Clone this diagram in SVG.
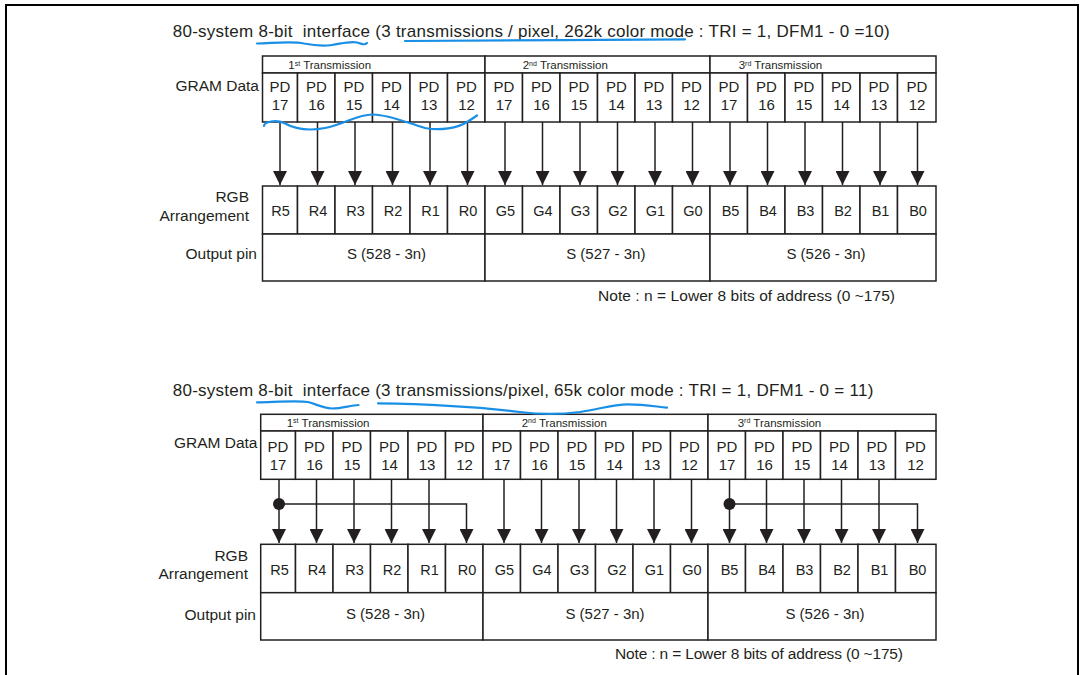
<svg xmlns="http://www.w3.org/2000/svg" width="1084" height="675" viewBox="0 0 1084 675">
<style>
text{font-family:"Liberation Sans",Arial,sans-serif;fill:#231f20}
.ttl{font-size:17px}
.lbl{font-size:15.5px;text-anchor:end}
.pd{font-size:15px;text-anchor:middle}
.rgb{font-size:14.5px;text-anchor:middle}
.hdr{font-size:11.5px}
.out{font-size:15px;text-anchor:middle}
.note{font-size:15.5px}
.c{fill:#fff;stroke:#231f20;stroke-width:1.5}
.w{fill:none;stroke:#1a8fe6;stroke-width:2.2;stroke-linecap:round;stroke-linejoin:round}
.ln{fill:none;stroke:#231f20;stroke-width:1.5}
</style>
<defs>
<marker id="ah" markerUnits="userSpaceOnUse" markerWidth="14" markerHeight="14" viewBox="0 0 14 14" refX="14" refY="7" orient="auto"><path d="M0,0 L14,7 L0,14 z" fill="#231f20"/></marker>
</defs>
<rect x="6" y="5" width="1072" height="700" fill="none" stroke="#000" stroke-width="2"/>

<!-- ================= TOP ================= -->
<g id="t1-title"><text class="ttl" x="172.7" y="37.4" textLength="717" xml:space="preserve">80-system 8-bit  interface (3 transmissions / pixel, 262k color mode : TRI = 1, DFM1 - 0 =10)</text></g>
<g id="t1-labels">
<text class="lbl" x="259" y="90.5">GRAM Data</text>
<text class="lbl" x="249" y="202.3">RGB</text>
<text class="lbl" x="249" y="220.6">Arrangement</text>
<text class="lbl" x="257" y="259">Output pin</text>
</g>
<g id="t1-h1"><rect class="c" x="262.5" y="56" width="222.5" height="17"/><text class="hdr" x="288.3" y="69">1<tspan font-size="7" dy="-3.5">st</tspan><tspan dy="3.5"> Transmission</tspan></text></g>
<g id="t1-h2"><rect class="c" x="485" y="56" width="225" height="17"/><text class="hdr" x="522.7" y="69">2<tspan font-size="7" dy="-3.5">nd</tspan><tspan dy="3.5"> Transmission</tspan></text></g>
<g id="t1-h3"><rect class="c" x="710" y="56" width="226" height="17"/><text class="hdr" x="738.7" y="69">3<tspan font-size="7" dy="-3.5">rd</tspan><tspan dy="3.5"> Transmission</tspan></text></g>

<g id="t1-pd0"><rect class="c" x="262.5" y="73" width="35" height="49"/><text class="pd" x="280" y="92">PD</text><text class="pd" x="280" y="110.3">17</text></g>
<g id="t1-pd1"><rect class="c" x="297.5" y="73" width="37.5" height="49"/><text class="pd" x="316.5" y="92">PD</text><text class="pd" x="316.5" y="110.3">16</text></g>
<g id="t1-pd2"><rect class="c" x="335" y="73" width="37.5" height="49"/><text class="pd" x="354" y="92">PD</text><text class="pd" x="354" y="110.3">15</text></g>
<g id="t1-pd3"><rect class="c" x="372.5" y="73" width="37.5" height="49"/><text class="pd" x="391.5" y="92">PD</text><text class="pd" x="391.5" y="110.3">14</text></g>
<g id="t1-pd4"><rect class="c" x="410" y="73" width="37.5" height="49"/><text class="pd" x="429" y="92">PD</text><text class="pd" x="429" y="110.3">13</text></g>
<g id="t1-pd5"><rect class="c" x="447.5" y="73" width="37.5" height="49"/><text class="pd" x="466.5" y="92">PD</text><text class="pd" x="466.5" y="110.3">12</text></g>
<g id="t1-pd6"><rect class="c" x="485" y="73" width="37.5" height="49"/><text class="pd" x="504" y="92">PD</text><text class="pd" x="504" y="110.3">17</text></g>
<g id="t1-pd7"><rect class="c" x="522.5" y="73" width="37.5" height="49"/><text class="pd" x="541.5" y="92">PD</text><text class="pd" x="541.5" y="110.3">16</text></g>
<g id="t1-pd8"><rect class="c" x="560" y="73" width="37.5" height="49"/><text class="pd" x="579" y="92">PD</text><text class="pd" x="579" y="110.3">15</text></g>
<g id="t1-pd9"><rect class="c" x="597.5" y="73" width="37.5" height="49"/><text class="pd" x="616.5" y="92">PD</text><text class="pd" x="616.5" y="110.3">14</text></g>
<g id="t1-pd10"><rect class="c" x="635" y="73" width="37.5" height="49"/><text class="pd" x="654" y="92">PD</text><text class="pd" x="654" y="110.3">13</text></g>
<g id="t1-pd11"><rect class="c" x="672.5" y="73" width="37.5" height="49"/><text class="pd" x="691.5" y="92">PD</text><text class="pd" x="691.5" y="110.3">12</text></g>
<g id="t1-pd12"><rect class="c" x="710" y="73" width="37.5" height="49"/><text class="pd" x="729" y="92">PD</text><text class="pd" x="729" y="110.3">17</text></g>
<g id="t1-pd13"><rect class="c" x="747.5" y="73" width="37.5" height="49"/><text class="pd" x="766.5" y="92">PD</text><text class="pd" x="766.5" y="110.3">16</text></g>
<g id="t1-pd14"><rect class="c" x="785" y="73" width="37.5" height="49"/><text class="pd" x="804" y="92">PD</text><text class="pd" x="804" y="110.3">15</text></g>
<g id="t1-pd15"><rect class="c" x="822.5" y="73" width="37.5" height="49"/><text class="pd" x="841.5" y="92">PD</text><text class="pd" x="841.5" y="110.3">14</text></g>
<g id="t1-pd16"><rect class="c" x="860" y="73" width="37.5" height="49"/><text class="pd" x="879" y="92">PD</text><text class="pd" x="879" y="110.3">13</text></g>
<g id="t1-pd17"><rect class="c" x="897.5" y="73" width="38.5" height="49"/><text class="pd" x="917" y="92">PD</text><text class="pd" x="917" y="110.3">12</text></g>

<g id="t1-rgb0"><rect class="c" x="262.5" y="186" width="35" height="48"/><text class="rgb" x="280.5" y="216.2">R5</text></g>
<g id="t1-rgb1"><rect class="c" x="297.5" y="186" width="37.5" height="48"/><text class="rgb" x="318" y="216.2">R4</text></g>
<g id="t1-rgb2"><rect class="c" x="335" y="186" width="37.5" height="48"/><text class="rgb" x="355.5" y="216.2">R3</text></g>
<g id="t1-rgb3"><rect class="c" x="372.5" y="186" width="37.5" height="48"/><text class="rgb" x="393" y="216.2">R2</text></g>
<g id="t1-rgb4"><rect class="c" x="410" y="186" width="37.5" height="48"/><text class="rgb" x="430.5" y="216.2">R1</text></g>
<g id="t1-rgb5"><rect class="c" x="447.5" y="186" width="37.5" height="48"/><text class="rgb" x="468" y="216.2">R0</text></g>
<g id="t1-rgb6"><rect class="c" x="485" y="186" width="37.5" height="48"/><text class="rgb" x="505.5" y="216.2">G5</text></g>
<g id="t1-rgb7"><rect class="c" x="522.5" y="186" width="37.5" height="48"/><text class="rgb" x="543" y="216.2">G4</text></g>
<g id="t1-rgb8"><rect class="c" x="560" y="186" width="37.5" height="48"/><text class="rgb" x="580.5" y="216.2">G3</text></g>
<g id="t1-rgb9"><rect class="c" x="597.5" y="186" width="37.5" height="48"/><text class="rgb" x="618" y="216.2">G2</text></g>
<g id="t1-rgb10"><rect class="c" x="635" y="186" width="37.5" height="48"/><text class="rgb" x="655.5" y="216.2">G1</text></g>
<g id="t1-rgb11"><rect class="c" x="672.5" y="186" width="37.5" height="48"/><text class="rgb" x="693" y="216.2">G0</text></g>
<g id="t1-rgb12"><rect class="c" x="710" y="186" width="37.5" height="48"/><text class="rgb" x="730.5" y="216.2">B5</text></g>
<g id="t1-rgb13"><rect class="c" x="747.5" y="186" width="37.5" height="48"/><text class="rgb" x="768" y="216.2">B4</text></g>
<g id="t1-rgb14"><rect class="c" x="785" y="186" width="37.5" height="48"/><text class="rgb" x="805.5" y="216.2">B3</text></g>
<g id="t1-rgb15"><rect class="c" x="822.5" y="186" width="37.5" height="48"/><text class="rgb" x="843" y="216.2">B2</text></g>
<g id="t1-rgb16"><rect class="c" x="860" y="186" width="37.5" height="48"/><text class="rgb" x="880.5" y="216.2">B1</text></g>
<g id="t1-rgb17"><rect class="c" x="897.5" y="186" width="38.5" height="48"/><text class="rgb" x="918" y="216.2">B0</text></g>

<g id="t1-out1"><rect class="c" x="262.5" y="234" width="222.5" height="47"/><text class="out" x="386.5" y="258.5">S (528 - 3n)</text></g>
<g id="t1-out2"><rect class="c" x="485" y="234" width="225" height="47"/><text class="out" x="605.8" y="258.5">S (527 - 3n)</text></g>
<g id="t1-out3"><rect class="c" x="710" y="234" width="226" height="47"/><text class="out" x="826" y="258.5">S (526 - 3n)</text></g>
<g id="t1-note"><text class="note" x="598" y="300.5" textLength="297">Note : n = Lower 8 bits of address (0 ~175)</text></g>

<g id="t1-connectors" class="ln" marker-end="url(#ah)">
<path d="M280,122V185"/><path d="M317.5,122V185"/><path d="M355,122V185"/><path d="M392.5,122V185"/><path d="M430,122V185"/><path d="M467.5,122V185"/>
<path d="M505,122V185"/><path d="M542.5,122V185"/><path d="M580,122V185"/><path d="M617.5,122V185"/><path d="M655,122V185"/><path d="M692.5,122V185"/>
<path d="M730,122V185"/><path d="M767.5,122V185"/><path d="M805,122V185"/><path d="M842.5,122V185"/><path d="M880,122V185"/><path d="M917.5,122V185"/>
</g>

<!-- ================= BOTTOM ================= -->
<g id="t2-title"><text class="ttl" x="172.7" y="396.4" textLength="700.6" xml:space="preserve">80-system 8-bit  interface (3 transmissions/pixel, 65k color mode : TRI = 1, DFM1 - 0 = 11)</text></g>
<g id="t2-labels">
<text class="lbl" x="257.5" y="448">GRAM Data</text>
<text class="lbl" x="248" y="560.6">RGB</text>
<text class="lbl" x="248" y="579">Arrangement</text>
<text class="lbl" x="256" y="619.6">Output pin</text>
</g>
<g id="t2-h1"><rect class="c" x="260.7" y="414.3" width="222.3" height="16.7"/><text class="hdr" x="286.7" y="426.7">1<tspan font-size="7" dy="-3.5">st</tspan><tspan dy="3.5"> Transmission</tspan></text></g>
<g id="t2-h2"><rect class="c" x="483" y="414.3" width="225" height="16.7"/><text class="hdr" x="521.7" y="426.7">2<tspan font-size="7" dy="-3.5">nd</tspan><tspan dy="3.5"> Transmission</tspan></text></g>
<g id="t2-h3"><rect class="c" x="708" y="414.3" width="228" height="16.7"/><text class="hdr" x="737.7" y="426.7">3<tspan font-size="7" dy="-3.5">rd</tspan><tspan dy="3.5"> Transmission</tspan></text></g>

<g id="t2-pd0"><rect class="c" x="260.7" y="431" width="34.8" height="48.3"/><text class="pd" x="278" y="452">PD</text><text class="pd" x="278" y="470.3">17</text></g>
<g id="t2-pd1"><rect class="c" x="295.5" y="431" width="37.5" height="48.3"/><text class="pd" x="314.5" y="452">PD</text><text class="pd" x="314.5" y="470.3">16</text></g>
<g id="t2-pd2"><rect class="c" x="333" y="431" width="37.5" height="48.3"/><text class="pd" x="352" y="452">PD</text><text class="pd" x="352" y="470.3">15</text></g>
<g id="t2-pd3"><rect class="c" x="370.5" y="431" width="37.5" height="48.3"/><text class="pd" x="389.5" y="452">PD</text><text class="pd" x="389.5" y="470.3">14</text></g>
<g id="t2-pd4"><rect class="c" x="408" y="431" width="37.5" height="48.3"/><text class="pd" x="427" y="452">PD</text><text class="pd" x="427" y="470.3">13</text></g>
<g id="t2-pd5"><rect class="c" x="445.5" y="431" width="37.5" height="48.3"/><text class="pd" x="464.5" y="452">PD</text><text class="pd" x="464.5" y="470.3">12</text></g>
<g id="t2-pd6"><rect class="c" x="483" y="431" width="37.5" height="48.3"/><text class="pd" x="502" y="452">PD</text><text class="pd" x="502" y="470.3">17</text></g>
<g id="t2-pd7"><rect class="c" x="520.5" y="431" width="37.5" height="48.3"/><text class="pd" x="539.5" y="452">PD</text><text class="pd" x="539.5" y="470.3">16</text></g>
<g id="t2-pd8"><rect class="c" x="558" y="431" width="37.5" height="48.3"/><text class="pd" x="577" y="452">PD</text><text class="pd" x="577" y="470.3">15</text></g>
<g id="t2-pd9"><rect class="c" x="595.5" y="431" width="37.5" height="48.3"/><text class="pd" x="614.5" y="452">PD</text><text class="pd" x="614.5" y="470.3">14</text></g>
<g id="t2-pd10"><rect class="c" x="633" y="431" width="37.5" height="48.3"/><text class="pd" x="652" y="452">PD</text><text class="pd" x="652" y="470.3">13</text></g>
<g id="t2-pd11"><rect class="c" x="670.5" y="431" width="37.5" height="48.3"/><text class="pd" x="689.5" y="452">PD</text><text class="pd" x="689.5" y="470.3">12</text></g>
<g id="t2-pd12"><rect class="c" x="708" y="431" width="37.5" height="48.3"/><text class="pd" x="727" y="452">PD</text><text class="pd" x="727" y="470.3">17</text></g>
<g id="t2-pd13"><rect class="c" x="745.5" y="431" width="37.5" height="48.3"/><text class="pd" x="764.5" y="452">PD</text><text class="pd" x="764.5" y="470.3">16</text></g>
<g id="t2-pd14"><rect class="c" x="783" y="431" width="37.5" height="48.3"/><text class="pd" x="802" y="452">PD</text><text class="pd" x="802" y="470.3">15</text></g>
<g id="t2-pd15"><rect class="c" x="820.5" y="431" width="37.5" height="48.3"/><text class="pd" x="839.5" y="452">PD</text><text class="pd" x="839.5" y="470.3">14</text></g>
<g id="t2-pd16"><rect class="c" x="858" y="431" width="37.5" height="48.3"/><text class="pd" x="877" y="452">PD</text><text class="pd" x="877" y="470.3">13</text></g>
<g id="t2-pd17"><rect class="c" x="895.5" y="431" width="40.5" height="48.3"/><text class="pd" x="915.5" y="452">PD</text><text class="pd" x="915.5" y="470.3">12</text></g>

<g id="t2-rgb0"><rect class="c" x="260.7" y="544.3" width="34.8" height="48.4"/><text class="rgb" x="279.5" y="575.2">R5</text></g>
<g id="t2-rgb1"><rect class="c" x="295.5" y="544.3" width="37.5" height="48.4"/><text class="rgb" x="317" y="575.2">R4</text></g>
<g id="t2-rgb2"><rect class="c" x="333" y="544.3" width="37.5" height="48.4"/><text class="rgb" x="354.5" y="575.2">R3</text></g>
<g id="t2-rgb3"><rect class="c" x="370.5" y="544.3" width="37.5" height="48.4"/><text class="rgb" x="392" y="575.2">R2</text></g>
<g id="t2-rgb4"><rect class="c" x="408" y="544.3" width="37.5" height="48.4"/><text class="rgb" x="429.5" y="575.2">R1</text></g>
<g id="t2-rgb5"><rect class="c" x="445.5" y="544.3" width="37.5" height="48.4"/><text class="rgb" x="467" y="575.2">R0</text></g>
<g id="t2-rgb6"><rect class="c" x="483" y="544.3" width="37.5" height="48.4"/><text class="rgb" x="504.5" y="575.2">G5</text></g>
<g id="t2-rgb7"><rect class="c" x="520.5" y="544.3" width="37.5" height="48.4"/><text class="rgb" x="542" y="575.2">G4</text></g>
<g id="t2-rgb8"><rect class="c" x="558" y="544.3" width="37.5" height="48.4"/><text class="rgb" x="579.5" y="575.2">G3</text></g>
<g id="t2-rgb9"><rect class="c" x="595.5" y="544.3" width="37.5" height="48.4"/><text class="rgb" x="617" y="575.2">G2</text></g>
<g id="t2-rgb10"><rect class="c" x="633" y="544.3" width="37.5" height="48.4"/><text class="rgb" x="654.5" y="575.2">G1</text></g>
<g id="t2-rgb11"><rect class="c" x="670.5" y="544.3" width="37.5" height="48.4"/><text class="rgb" x="692" y="575.2">G0</text></g>
<g id="t2-rgb12"><rect class="c" x="708" y="544.3" width="37.5" height="48.4"/><text class="rgb" x="729.5" y="575.2">B5</text></g>
<g id="t2-rgb13"><rect class="c" x="745.5" y="544.3" width="37.5" height="48.4"/><text class="rgb" x="767" y="575.2">B4</text></g>
<g id="t2-rgb14"><rect class="c" x="783" y="544.3" width="37.5" height="48.4"/><text class="rgb" x="804.5" y="575.2">B3</text></g>
<g id="t2-rgb15"><rect class="c" x="820.5" y="544.3" width="37.5" height="48.4"/><text class="rgb" x="842" y="575.2">B2</text></g>
<g id="t2-rgb16"><rect class="c" x="858" y="544.3" width="37.5" height="48.4"/><text class="rgb" x="879.5" y="575.2">B1</text></g>
<g id="t2-rgb17"><rect class="c" x="895.5" y="544.3" width="40.5" height="48.4"/><text class="rgb" x="917.5" y="575.2">B0</text></g>

<g id="t2-out1"><rect class="c" x="260.7" y="592.7" width="222.3" height="47.3"/><text class="out" x="385.5" y="618.5">S (528 - 3n)</text></g>
<g id="t2-out2"><rect class="c" x="483" y="592.7" width="225" height="47.3"/><text class="out" x="605" y="618.5">S (527 - 3n)</text></g>
<g id="t2-out3"><rect class="c" x="708" y="592.7" width="228" height="47.3"/><text class="out" x="825" y="618.5">S (526 - 3n)</text></g>
<g id="t2-note"><text class="note" x="615" y="659" textLength="288">Note : n = Lower 8 bits of address (0 ~175)</text></g>

<g id="t2-connectors" class="ln" marker-end="url(#ah)">
<path d="M279,479.3V543"/><path d="M316.5,479.3V543"/><path d="M354,479.3V543"/><path d="M391.5,479.3V543"/><path d="M429,479.3V543"/><path d="M279,504H466.5V543"/>
<path d="M504,479.3V543"/><path d="M541.5,479.3V543"/><path d="M579,479.3V543"/><path d="M616.5,479.3V543"/><path d="M654,479.3V543"/><path d="M691.5,479.3V543"/>
<path d="M729.5,479.3V543"/><path d="M766.5,479.3V543"/><path d="M804,479.3V543"/><path d="M841.5,479.3V543"/><path d="M879,479.3V543"/><path d="M729.5,504H917.5V543"/>
</g>
<g id="t2-dots" fill="#231f20">
<circle cx="279" cy="504" r="6"/>
<circle cx="729.5" cy="504" r="6"/>
</g>

<!-- blue hand annotations -->
<g id="annotations">
<path class="w" d="M257,43.5 C275,43 293,41 304,43.5 C314,45.5 322,46.5 332,45 C342,43.5 350,41 357,42.5 C362,43.5 364,46 367,43"/>
<path class="w" d="M405,41 C480,40.5 600,40 685,39.3"/>
<path class="w" d="M264,126 C264,122 276,119 284,123 C295,129 310,131 325,128 C345,124 358,114 373,114.5 C390,115 405,122 425,128 C440,131 458,128 467,122 C472,119 477,115.5 477,115.5"/>
<path class="w" d="M257,402.3 C275,402 298,400.5 308,402 C316,404 322,408 332,408.5 C342,408.5 350,405.5 358.5,405"/>
<path class="w" d="M378,403.3 C430,404 480,407 520,412 C540,414.5 560,414.5 580,412 C600,409 612,404.5 628,404.3 C645,404.3 655,406.5 667,407.7"/>
</g>
</svg>
